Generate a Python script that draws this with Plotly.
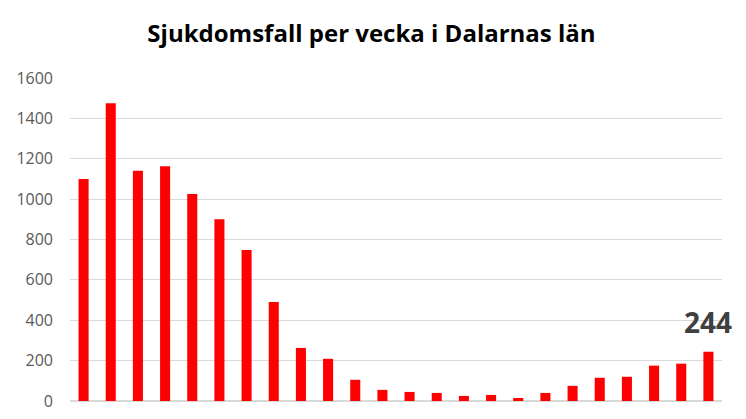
import plotly.graph_objects as go

weeks = list(range(1, 25))
cases = [1100, 1475, 1140, 1163, 1025, 900, 748, 490, 263, 209, 105, 55,
         45, 40, 25, 30, 15, 40, 75, 115, 120, 175, 185, 244]
title_text = "Sjukdomsfall per vecka i Dalarnas län"
y_ticks = [0, 200, 400, 600, 800, 1000, 1200, 1400, 1600]

W, H = 738, 411

fig = go.Figure()
fig.add_trace(go.Bar(x=weeks, y=cases, marker=dict(color="#ff0000", line=dict(width=0)),
                     width=0.37, hoverinfo="y"))

fig.add_annotation(x=weeks[-1], y=cases[-1], text="<b>%d</b>" % cases[-1],
                   showarrow=False, yanchor="bottom", yshift=9,
                   font=dict(family="Open Sans", size=28, color="#404040"))

fig.update_layout(
    width=W, height=H,
    margin=dict(l=62, r=24, t=70, b=18, autoexpand=False),
    paper_bgcolor="white", plot_bgcolor="white",
    title=dict(text="<b>" + title_text + "</b>", x=363.5 / W, xanchor="center",
               y=1 - 26 / H, yanchor="middle",
               font=dict(family="Open Sans", size=24, color="#000000")),
    showlegend=False,
    xaxis=dict(range=[0.5, 24.5], showticklabels=False, showgrid=False,
               zeroline=False, showline=False, ticks="", automargin=False),
    yaxis=dict(range=[0, 1600], tickvals=y_ticks, showgrid=True,
               gridcolor="#d9d9d9", gridwidth=1.2, zeroline=True,
               zerolinecolor="#d9d9d9", zerolinewidth=2, showline=False,
               ticks="", ticklabelstandoff=16, automargin=False,
               tickfont=dict(family="Open Sans", size=16, color="#595959")),
)

fig.write_html("out.html")
